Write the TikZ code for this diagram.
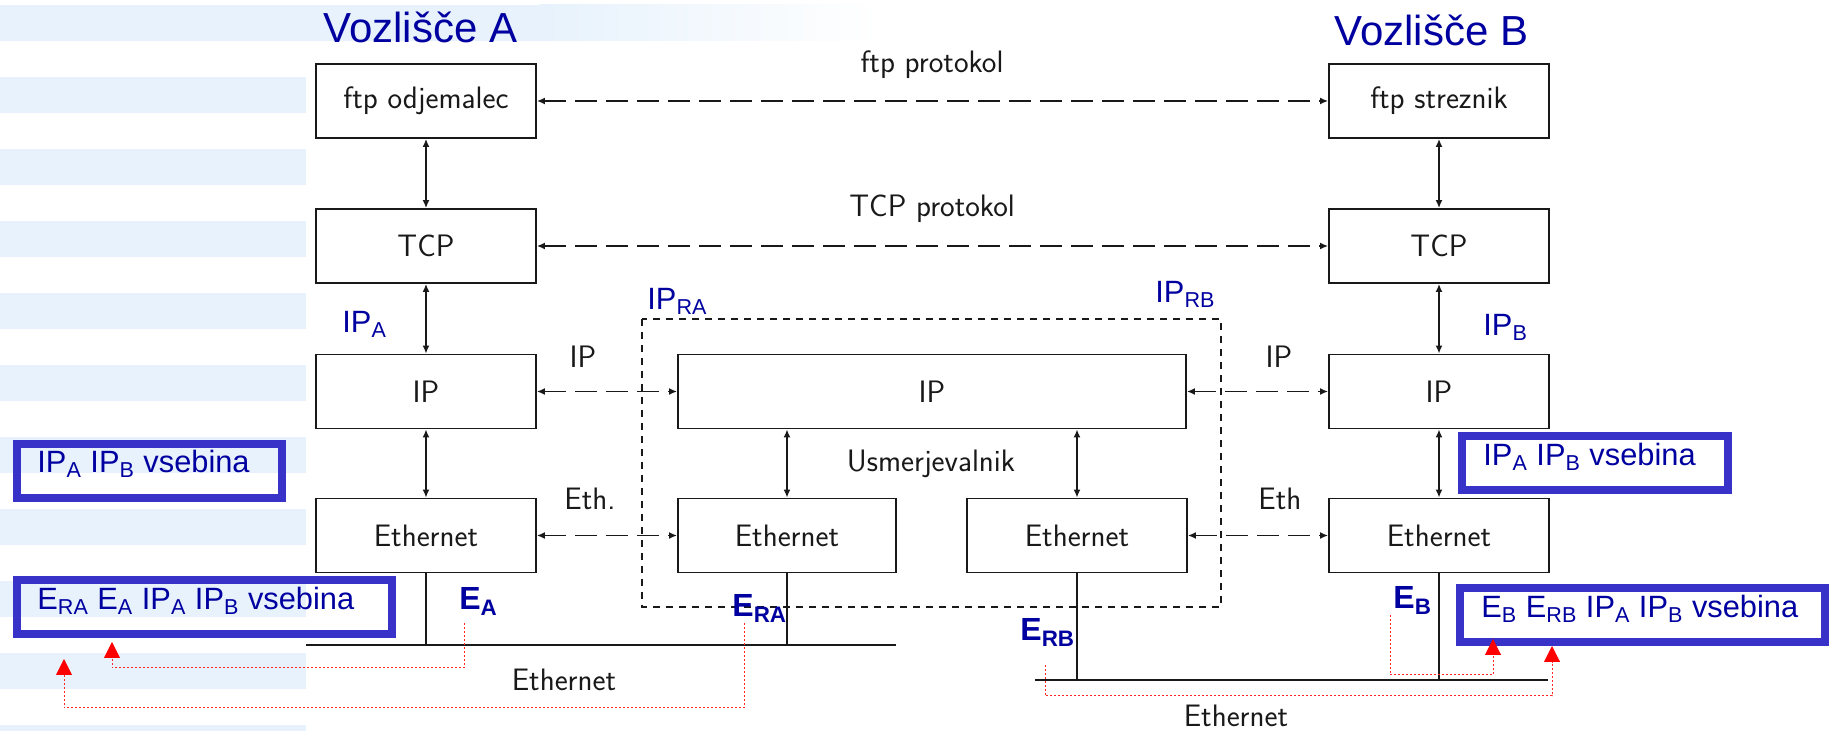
\documentclass[tikz,border=0pt]{standalone}
\usepackage{fontspec}
\usetikzlibrary{arrows.meta}

\newfontfamily\arialfam{Liberation Sans}
\newcommand\boxfont{\sffamily\fontsize{15.5}{18}\selectfont}
\newcommand\tagfont{\arialfam\fontsize{15.4}{18}\selectfont}
\newcommand\macfont{\arialfam\bfseries\fontsize{16}{19}\selectfont}
\newcommand\titlefont{\arialfam\fontsize{21}{25}\selectfont}
\newcommand\lo[1]{\textsubscript{#1}}

\definecolor{stripe}{RGB}{231,242,252}
\definecolor{lbl}{RGB}{0,0,160}
\definecolor{frame}{RGB}{56,50,200}
\definecolor{ink}{RGB}{25,25,25}

\tikzset{
  layer/.style={draw=ink, line width=0.9pt, minimum width=110pt, minimum height=37pt,
                inner sep=0pt, font=\boxfont, text=ink},
  link/.style={draw=ink, line width=0.8pt,
               {Latex[length=4pt,width=3.5pt]}-{Latex[length=4pt,width=3.5pt]}},
  peer/.style={link, dash pattern=on 11pt off 4.5pt},
  routerline/.style={draw=ink, line width=0.9pt, dash pattern=on 3.5pt off 3pt},
  bus/.style={draw=ink, line width=1.1pt},
  note/.style={font=\boxfont, text=ink, inner sep=0pt},
  tag/.style={font=\tagfont, text=lbl, inner sep=0pt, anchor=base west},
  mac/.style={font=\macfont, text=lbl, inner sep=0pt, anchor=base west},
  title/.style={font=\titlefont, text=lbl, inner sep=0pt, anchor=base west},
  packet/.style={draw=frame, line width=4pt},
  trace/.style={draw=red!85, line width=0.5pt, dash pattern=on 1pt off 1pt,
                -{Triangle[length=8pt,width=8pt,color=red]}}
}

\begin{document}
\begin{tikzpicture}[x=0.5pt,y=-0.5pt]
  % page and background bands
  \fill[white] (0,0) rectangle (1832,731);
  \useasboundingbox (0,0) rectangle (1832,731);
  \foreach \k in {0,...,10}
    \fill[stripe] (0,{5+72*\k}) rectangle (306,{41+72*\k});
  \fill[stripe] (306,5) rectangle (540,41);
  \shade[left color=stripe, right color=white] (540,5) rectangle (880,41);

  % node titles
  \node[title] (titleA) at (323,43) {Vozlišče A};
  \node[title] (titleB) at (1334,46) {Vozlišče B};

  % protocol stack of node A
  \node[layer] (ftpA) at (426,101)   {ftp odjemalec};
  \node[layer] (tcpA) at (426,246)   {TCP};
  \node[layer] (ipA)  at (426,391.5) {IP};
  \node[layer] (ethA) at (426,535.5) {Ethernet};

  % protocol stack of node B
  \node[layer] (ftpB) at (1439,101)   {ftp streznik};
  \node[layer] (tcpB) at (1439,246)   {TCP};
  \node[layer] (ipB)  at (1439,391.5) {IP};
  \node[layer] (ethB) at (1439,535.5) {Ethernet};

  % router
  \draw[routerline] (642,319) rectangle (1221,607);
  \node[layer, minimum width=254pt] (ipR) at (932,391.5) {IP};
  \node[layer, minimum width=109pt] (ethRA) at (787,535.5) {Ethernet};
  \node[layer] (ethRB) at (1077,535.5) {Ethernet};
  \node[note, anchor=base] (router) at (931,472) {Usmerjevalnik};

  % links inside the stacks
  \draw[link] (ftpA) -- (tcpA);
  \draw[link] (tcpA) -- (ipA);
  \draw[link] (ipA) -- (ethA);
  \draw[link] (ftpB) -- (tcpB);
  \draw[link] (tcpB) -- (ipB);
  \draw[link] (ipB) -- (ethB);
  \draw[link] (ethRA.north |- ipR.south) -- (ethRA.north);
  \draw[link] (ethRB.north |- ipR.south) -- (ethRB.north);

  % peer protocols
  \draw[peer] (ftpA) -- (ftpB);
  \draw[peer] (tcpA) -- (tcpB);
  \draw[peer] (ipA) -- (ipR);
  \draw[peer] (ipR) -- (ipB);
  \draw[peer] (ethA) -- (ethRA);
  \draw[peer] (ethRB) -- (ethB);

  \node[note, anchor=base] (lftp) at (932,73) {ftp protokol};
  \node[note, anchor=base] (ltcp) at (932,217) {TCP protokol};
  \node[note] (lipA) at (583,357) {IP};
  \node[note] (lipB) at (1279,357) {IP};
  \node[note, anchor=base west] (lethA) at (564,510) {Eth.};
  \node[note, anchor=base west] (lethB) at (1258,510) {Eth};

  % Ethernet segments
  \coordinate (busAL) at (306,645);
  \coordinate (busAR) at (896,645);
  \coordinate (busBL) at (1035,680);
  \coordinate (busBR) at (1548,680);
  \draw[bus] (busAL) -- (busAR);
  \draw[bus] (busBL) -- (busBR);
  \draw[bus] (ethA.south) -- (ethA.south |- busAL);
  \draw[bus] (ethRA.south) -- (ethRA.south |- busAL);
  \draw[bus] (ethRB.south) -- (ethRB.south |- busBL);
  \draw[bus] (ethB.south) -- (ethB.south |- busBL);
  \node[note] (lbusA) at (564,680) {Ethernet};
  \node[note] (lbusB) at (1236,716) {Ethernet};

  % addresses
  \node[tag] (adA)  at (342,333)  {IP\lo{A}};
  \node[tag] (adRA) at (647,310)  {IP\lo{RA}};
  \node[tag] (adRB) at (1155,303) {IP\lo{RB}};
  \node[tag] (adB)  at (1483,336) {IP\lo{B}};
  \node[mac] (mA)  at (459,610)  {E\lo{A}};
  \node[mac] (mRA) at (732,617)  {E\lo{RA}};
  \node[mac] (mRB) at (1020,641) {E\lo{RB}};
  \node[mac] (mB)  at (1393,609) {E\lo{B}};

  % packets
  \draw[packet] (17,444) rectangle (282,498);
  \node[tag] (pkt1) at (37,473) {IP\lo{A} IP\lo{B} vsebina};
  \draw[packet] (17,580) rectangle (392,634);
  \node[tag] (pkt2) at (37,610) {E\lo{RA} E\lo{A} IP\lo{A} IP\lo{B} vsebina};
  \draw[packet] (1462,436) rectangle (1728,490);
  \node[tag] (pkt3) at (1483,466) {IP\lo{A} IP\lo{B} vsebina};
  \draw[packet] (1460,588) rectangle (1825,642);
  \node[tag] (pkt4) at (1481,618) {E\lo{B} E\lo{RB} IP\lo{A} IP\lo{B} vsebina};

  % where each frame header comes from
  \coordinate (fA)  at (464,623);
  \coordinate (tA)  at (112,642);
  \coordinate (fRA) at (744,623);
  \coordinate (tRA) at (64,659);
  \coordinate (fRB) at (1045,665);
  \coordinate (tRB) at (1552,646);
  \coordinate (fB)  at (1390,615);
  \coordinate (tB)  at (1493,639);
  \draw[trace] (fA)  -- ++(0,45) -| (tA);
  \draw[trace] (fRA) -- ++(0,85) -| (tRA);
  \draw[trace] (fRB) -- ++(0,31) -| (tRB);
  \draw[trace] (fB)  -- ++(0,60) -| (tB);
\end{tikzpicture}
\end{document}
